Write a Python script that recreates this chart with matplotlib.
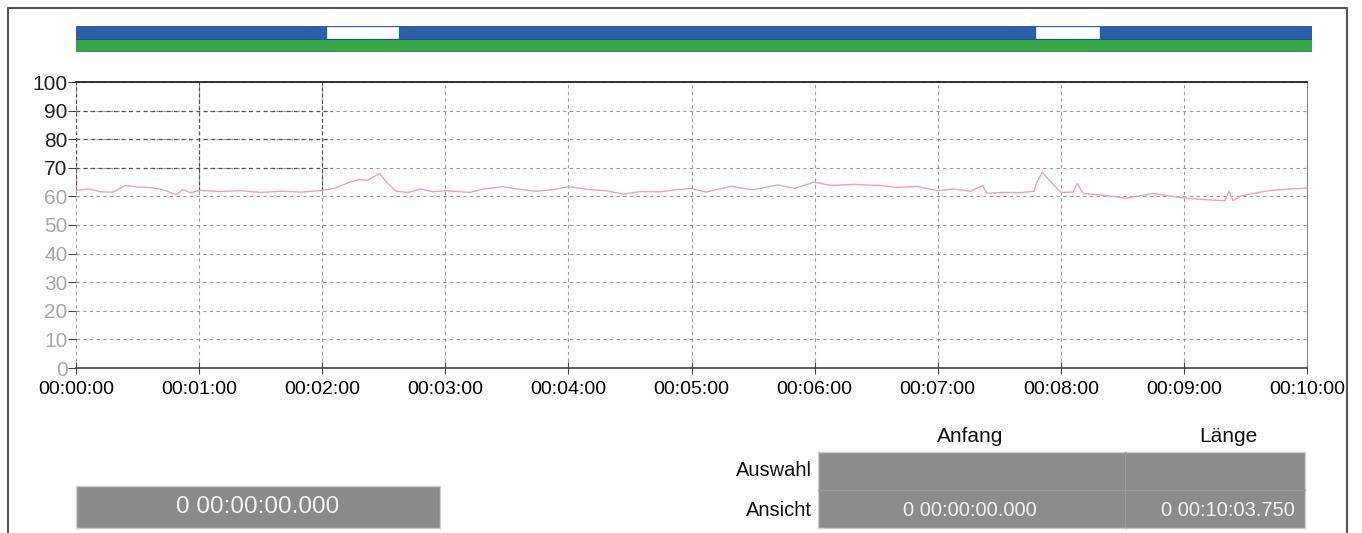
import matplotlib.pyplot as plt
from matplotlib.patches import Rectangle

plt.rcParams['font.family'] = ['Liberation Sans', 'DejaVu Sans']

# Messwerte (Sekunden, Wert)
zeit = [0, 6, 12, 18, 24, 30, 36, 42, 49, 52, 56, 60, 70, 80, 90, 100, 110, 120,
        126, 133, 138, 142, 148, 152, 156, 162, 168, 174, 180, 192, 198, 208, 216,
        224, 232, 240, 250, 258, 267, 275, 285, 292, 300, 307, 319, 330, 342, 350,
        360, 368, 379, 392, 400, 410, 420, 428, 436, 442, 444, 452, 460, 467, 468,
        471, 474, 480, 486, 488, 491, 498, 512, 525, 540, 552, 560, 562, 564, 568,
        581, 592, 600]
werte = [62.1, 62.6, 61.6, 61.5, 63.8, 63.3, 63.1, 62.4, 60.6, 62.4, 61.3, 62.1,
         61.7, 62.0, 61.4, 61.8, 61.5, 62.1, 62.8, 64.9, 65.9, 65.6, 68.0, 64.5,
         61.8, 61.4, 62.6, 61.6, 62.0, 61.4, 62.5, 63.4, 62.5, 61.8, 62.3, 63.4,
         62.4, 62.0, 60.8, 61.7, 61.6, 62.3, 62.8, 61.5, 63.5, 62.3, 64.0, 62.8,
         65.0, 63.8, 64.2, 63.8, 63.1, 63.5, 62.0, 62.6, 61.8, 63.8, 61.1, 61.4,
         61.3, 61.8, 64.5, 68.5, 66.0, 61.4, 61.5, 64.5, 61.0, 60.6, 59.4, 61.0,
         59.4, 58.8, 58.5, 61.8, 58.5, 60.2, 62.0, 62.6, 62.9]

# Zeitleiste: Lücken (Start, Dauer) in Sekunden
luecken = [(122, 34.5), (466.5, 30.5)]
gesamt = 603.75

x_ticks = list(range(0, 601, 60))
x_labels = ['00:%02d:00' % (t // 60) for t in x_ticks]
y_ticks = list(range(0, 101, 10))

W, H = 1362, 533
fig = plt.figure(figsize=(W / 100, H / 100), dpi=100)

def box(x0, y0, x1, y1):
    return [x0 / W, 1 - y1 / H, (x1 - x0) / W, (y1 - y0) / H]

# Rahmen
rahmen = fig.add_axes([0, 0, 1, 1])
rahmen.set_xlim(0, W)
rahmen.set_ylim(H, 0)
rahmen.axis('off')
rahmen.plot([8, 8, 1347, 1347], [540, 8, 8, 540], color='#555555', lw=1.5)

# Zeitleiste oben
leiste = fig.add_axes(box(76, 26, 1311, 51))
leiste.set_xlim(0, 600)
leiste.set_ylim(0, 2)
leiste.axis('off')
leiste.broken_barh([(0, gesamt)], (0, 1), facecolors='#36a84a', edgecolor='#2b8a3c', lw=0.6)
leiste.broken_barh([(0, gesamt)], (1, 1), facecolors='#2d5fab', edgecolor='#244d8c', lw=0.6)
leiste.broken_barh(luecken, (1.08, 0.84), facecolors='white', edgecolor='white', lw=0.5)

# Hauptdiagramm
ax = fig.add_axes(box(76, 82, 1307, 368))
ax.set_xlim(0, 600)
ax.set_ylim(0, 100)
ax.set_xticks(x_ticks)
ax.set_xticklabels(x_labels, fontsize=14)
ax.set_yticks(y_ticks)
ax.set_yticklabels([str(v) for v in y_ticks], fontsize=15)
for lbl, v in zip(ax.get_yticklabels(), y_ticks):
    lbl.set_color('#222222' if v >= 70 else '#a8a8a8')
ax.tick_params(axis='y', length=6, direction='out', pad=0, color='#444444')
ax.tick_params(axis='x', length=9, direction='inout', pad=5, color='#444444')
ax.grid(True, linestyle=(0, (3, 3)), color='#9a9a9a', lw=0.8)
ax.spines['left'].set_visible(False)
ax.spines['top'].set_color('#222222')
ax.spines['top'].set_linewidth(1.3)
ax.spines['bottom'].set_color('#444444')
ax.spines['bottom'].set_linewidth(1.2)
ax.spines['right'].set_color('#888888')

# dunklere Gitterlinien oben links (Scan)
for v in [70, 80, 90]:
    ax.plot([0, 125], [v, v], color='#555555', lw=0.9, ls=(0, (3, 3)))
for t in [0, 60, 120]:
    ax.plot([t, t], [62, 100], color='#555555', lw=0.9, ls=(0, (3, 2)))

ax.plot(zeit, werte, color='#f2a0b8', lw=1.0, zorder=5)

# Bedienfeld unten
rahmen.add_patch(Rectangle((76, 486), 364, 42, facecolor='#8a8a8a', edgecolor='#cfcfcf'))
rahmen.text(258, 507, '0 00:00:00.000', color='#f4f4f4', fontsize=17.5, ha='center', va='center')

rahmen.add_patch(Rectangle((818, 452), 487, 76, facecolor='#8c8c8c', edgecolor='#cfcfcf'))
rahmen.plot([818, 1305], [490, 490], color='#9a9a9a', lw=0.8)
rahmen.plot([1125, 1125], [452, 528], color='#9a9a9a', lw=0.8)
rahmen.text(970, 437, 'Anfang', fontsize=15, ha='center', va='center', color='#111111')
rahmen.text(1228, 437, 'Länge', fontsize=15, ha='center', va='center', color='#111111')
rahmen.text(812, 471, 'Auswahl', fontsize=14.5, ha='right', va='center', color='#111111')
rahmen.text(812, 510, 'Ansicht', fontsize=14.5, ha='right', va='center', color='#111111')
rahmen.text(970, 510, '0 00:00:00.000', fontsize=14.5, ha='center', va='center', color='#f0f0f0')
rahmen.text(1228, 510, '0 00:10:03.750', fontsize=14.5, ha='center', va='center', color='#f0f0f0')

fig.savefig('out.png', dpi=100)
